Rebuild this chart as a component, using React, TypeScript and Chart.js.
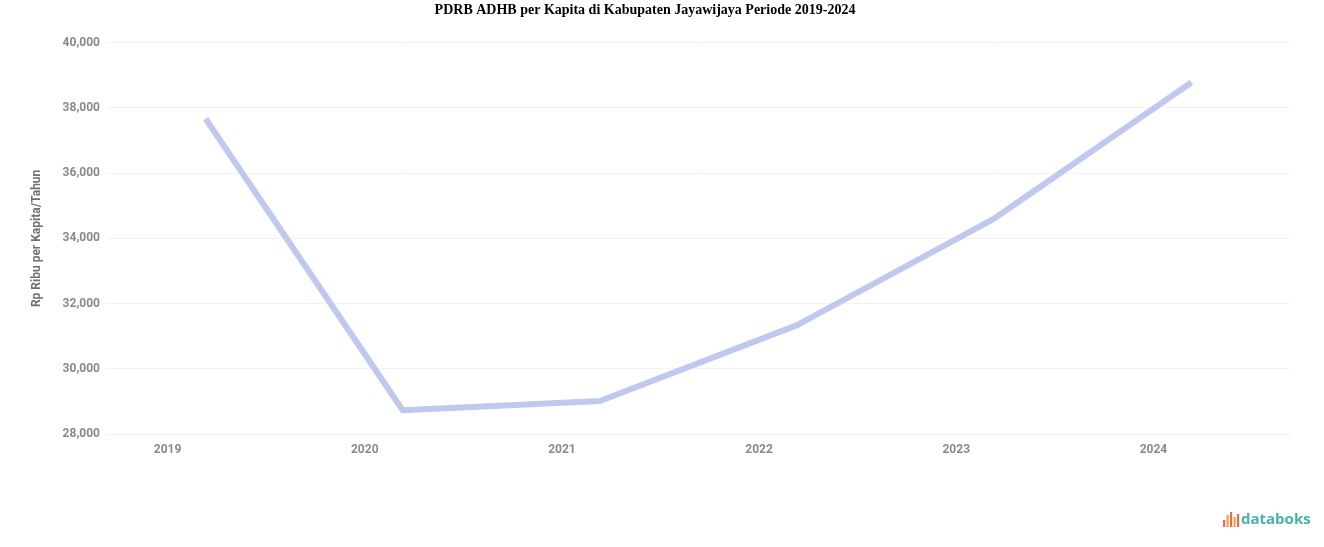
import React, { useEffect, useRef } from "react";
import { Chart, registerables } from "chart.js";

Chart.register(...registerables);

const title = "PDRB ADHB per Kapita di Kabupaten Jayawijaya Periode 2019-2024";
const yAxisTitle = "Rp Ribu per Kapita/Tahun";
const years = ["2019", "2020", "2021", "2022", "2023", "2024"];
const perCapita = [37670, 28730, 29010, 31340, 34610, 38780];
const yMin = 28000;
const yMax = 40000;
const yStep = 2000;

const logoPlugin = {
  id: "databoksLogo",
  afterDraw(chart: any) {
    const ctx = chart.ctx as CanvasRenderingContext2D;
    ctx.save();
    const bx = 1223;
    const by = 527;
    const bars = [
      { dx: 0, h: 7, c: "#f06a4f" },
      { dx: 3.5, h: 12, c: "#f3a24a" },
      { dx: 7, h: 15, c: "#f06a4f" },
      { dx: 10.5, h: 10, c: "#f3a24a" },
      { dx: 14, h: 13, c: "#f06a4f" },
    ];
    bars.forEach((b) => {
      ctx.fillStyle = b.c;
      ctx.fillRect(bx + b.dx, by - b.h, 2.2, b.h);
    });
    ctx.fillStyle = "#45b5a6";
    ctx.font = "bold 15px 'Open Sans', sans-serif";
    ctx.textAlign = "left";
    ctx.textBaseline = "alphabetic";
    ctx.fillText("databoks", 1241, 524);
    ctx.restore();
  },
};

export default function App() {
  const ref = useRef<HTMLCanvasElement | null>(null);
  useEffect(() => {
    document.body.style.margin = "0";
    const chart = new Chart(ref.current as HTMLCanvasElement, {
      type: "line",
      data: {
        labels: years,
        datasets: [
          {
            data: perCapita,
            borderColor: "#bfc9f0",
            borderWidth: 6,
            pointRadius: 0,
            tension: 0,
            borderJoinStyle: "round",
            fill: false,
          },
        ],
      },
      options: {
        animation: false,
        responsive: false,
        layout: { padding: { left: 0, right: 34, top: 0, bottom: 0 } },
        plugins: {
          legend: { display: false },
          tooltip: { enabled: false },
          title: {
            display: true,
            text: title,
            color: "#000",
            font: { family: "'Liberation Serif', 'Times New Roman', serif", size: 14, weight: "bold" },
            padding: { top: 2, bottom: 24 },
          },
        },
        scales: {
          x: {
            offset: true,
            grid: { display: false, drawTicks: false },
            border: { display: true, color: "#f0f0f0" },
            ticks: {
              color: "#8a8a8a",
              font: { family: "Roboto, sans-serif", size: 12, weight: "bold" },
              padding: 9,
              labelOffset: -38,
            },
            afterFit: (s: any) => {
              s.height = 113;
            },
          },
          y: {
            min: yMin,
            max: yMax,
            grid: { color: "#f2f2f2", drawTicks: false },
            border: { display: false },
            ticks: {
              stepSize: yStep,
              color: "#8a8a8a",
              font: { family: "Roboto, sans-serif", size: 12, weight: "bold" },
              padding: 7,
              callback: (v: any) => Number(v).toLocaleString("en-US"),
            },
            title: {
              display: true,
              text: yAxisTitle,
              color: "#707070",
              font: { family: "Roboto, sans-serif", size: 12, weight: "bold" },
              padding: { top: 30, bottom: 0 },
            },
            afterFit: (s: any) => {
              s.width = 107;
            },
          },
        },
      },
      plugins: [logoPlugin],
    });
    return () => chart.destroy();
  }, []);
  return (
    <div style={{ width: 1324, height: 547, background: "#fff" }}>
      <canvas ref={ref} width={1324} height={547} />
    </div>
  );
}
